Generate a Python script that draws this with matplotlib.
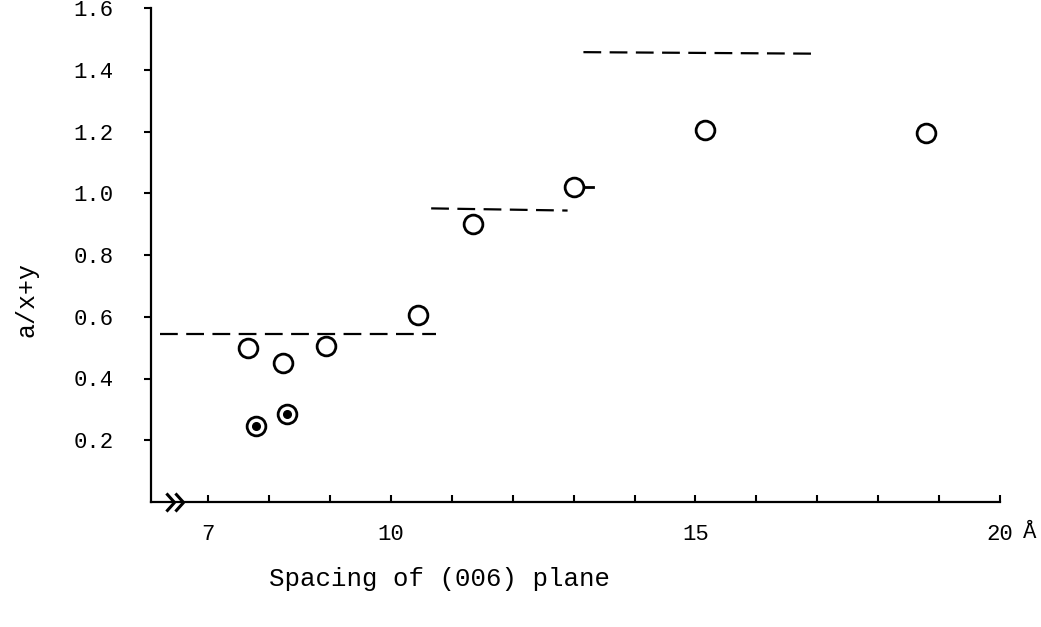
import matplotlib
matplotlib.use("Agg")
import matplotlib.pyplot as plt
from matplotlib.path import Path

# ---- data ----
open_x = [7.65, 8.23, 8.93, 10.44, 11.34, 13.00, 15.16, 18.79]
open_y = [0.50, 0.45, 0.505, 0.605, 0.90, 1.02, 1.205, 1.195]

dot_x = [7.79, 8.29]
dot_y = [0.245, 0.285]

dash1_x = [6.21, 10.74]
dash1_y = [0.545, 0.545]
dash2_x = [10.66, 12.90]
dash2_y = [0.951, 0.944]
dash3_x = [13.16, 17.02]
dash3_y = [1.457, 1.452]
stub_x = [13.15, 13.32]
stub_y = [1.02, 1.02]

yticks = [0.2, 0.4, 0.6, 0.8, 1.0, 1.2, 1.4, 1.6]
ytick_labels = ["0.2", "0.4", "0.6", "0.8", "1.0", "1.2", "1.4", "1.6"]
xticks = list(range(7, 21))
xtick_labels = ["7", "", "", "10", "", "", "", "", "15", "", "", "", "", "20"]
break_x = [6.37, 6.52]
break_y = [0, 0]

FONT = ["Liberation Mono", "DejaVu Sans Mono"]
plt.rcParams["font.family"] = FONT
FS = 16

fig = plt.figure(figsize=(10.41, 6.27), dpi=100)
ax = fig.add_axes([151 / 1041, 125 / 627, 849 / 1041, 494 / 627])

ax.set_xlim(6.06, 20)
ax.set_ylim(0, 1.6)

lw_dash = 1.6
dash = (0, (8, 3.8))
for xs, ys in [(dash1_x, dash1_y), (dash2_x, dash2_y), (dash3_x, dash3_y)]:
    ax.plot(xs, ys, color="black", lw=lw_dash, linestyle=dash, solid_capstyle="butt")
ax.plot(stub_x, stub_y, color="black", lw=2.0)

ax.plot(open_x, open_y, linestyle="none", marker="o", ms=13.5, mfc="white",
        mec="black", mew=2.0, zorder=3)
ax.plot(dot_x, dot_y, linestyle="none", marker="o", ms=13.5, mfc="white",
        mec="black", mew=2.0, zorder=3)
ax.plot(dot_x, dot_y, linestyle="none", marker="o", ms=5.5, mfc="black",
        mec="black", zorder=4)

# axis break chevrons
chev = Path([(-0.45, 1.0), (0.45, 0.0), (-0.45, -1.0)],
            [Path.MOVETO, Path.LINETO, Path.LINETO])
ax.plot(break_x, break_y, linestyle="none", marker=chev, ms=13, mec="black",
        mew=2.2, fillstyle="none", clip_on=False, zorder=5)

for s in ["top", "right"]:
    ax.spines[s].set_visible(False)
for s in ["left", "bottom"]:
    ax.spines[s].set_linewidth(1.6)

ax.set_yticks(yticks)
ax.set_yticklabels(ytick_labels)
ax.set_xticks(xticks)
ax.set_xticklabels(xtick_labels)
ax.tick_params(axis="y", direction="out", length=5, width=1.5, pad=22, labelsize=FS)
ax.tick_params(axis="x", direction="in", length=5, width=1.5, pad=16, labelsize=FS)

ax.set_ylabel("a/x+y", fontsize=18, va="center")
ax.yaxis.set_label_coords(-0.147, 0.41)
ax.set_xlabel("Spacing of (006) plane", fontsize=18.5, va="center")
ax.xaxis.set_label_coords(0.34, -0.155)

fig.text(1030 / 1041, 1 - 533 / 627, "Å", fontsize=FS, ha="center", va="center")

fig.savefig("out.png", dpi=100, facecolor="white")
